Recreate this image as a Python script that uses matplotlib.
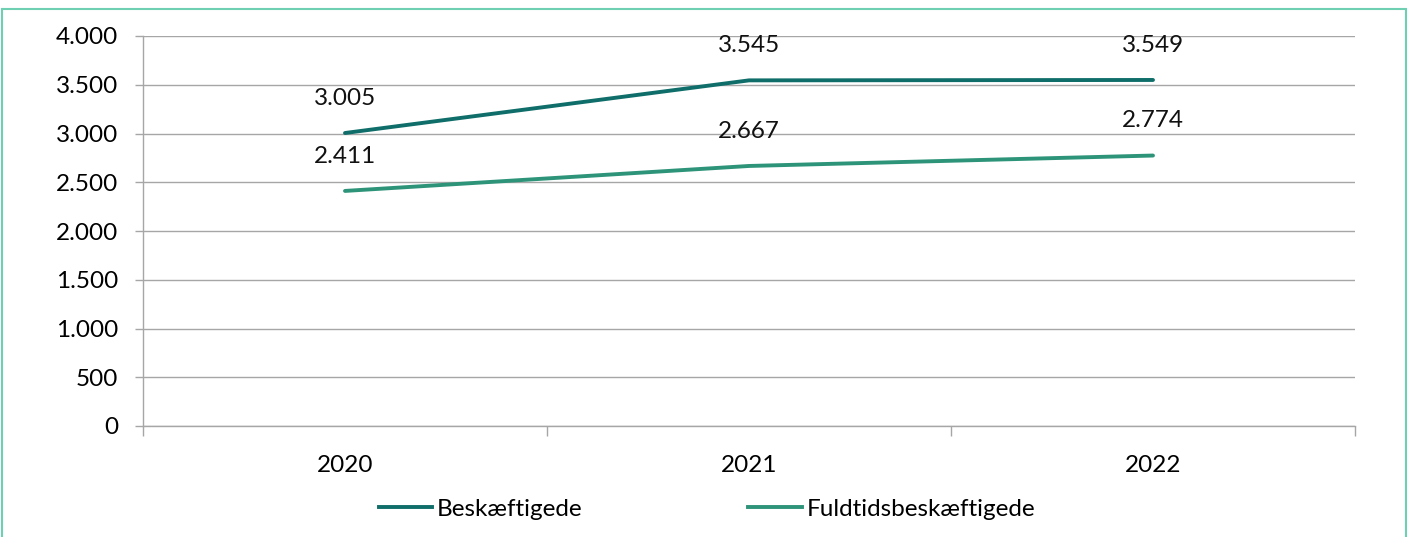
import matplotlib
matplotlib.use("Agg")
import matplotlib.pyplot as plt
from matplotlib.patches import Rectangle
from matplotlib.lines import Line2D

years = ["2020", "2021", "2022"]
beskaeftigede = [3005, 3545, 3549]
fuldtids = [2411, 2667, 2774]
series_names = ["Beskæftigede", "Fuldtidsbeskæftigede"]
yticks = [0, 500, 1000, 1500, 2000, 2500, 3000, 3500, 4000]

plt.rcParams['font.family'] = ['Lato', 'DejaVu Sans']

W, H = 1409, 537
fig = plt.figure(figsize=(W/100, H/100), dpi=100)
ax = fig.add_axes([143/W, 1-426/H, (1355-143)/W, (426-36)/H])

c1 = '#0f6e69'
c2 = '#2e9479'
fs = 17.5
x = list(range(len(years)))
ax.plot(x, beskaeftigede, color=c1, lw=2.8, solid_capstyle='round', label=series_names[0], zorder=3)
ax.plot(x, fuldtids, color=c2, lw=2.8, solid_capstyle='round', label=series_names[1], zorder=3)

def fmt(v):
    return f"{v:,}".replace(",", ".")

for xs, vals in [(x, beskaeftigede), (x, fuldtids)]:
    for xi, v in zip(xs, vals):
        ax.annotate(fmt(v), (xi, v), xytext=(0, 25), textcoords='offset points',
                    ha='center', va='center', fontsize=fs, color='#111111')

ax.set_xlim(-0.5, 2.5)
ax.set_ylim(0, 4000)
ax.set_yticks(yticks)
ax.set_yticklabels([fmt(v) for v in yticks], fontsize=fs)
ax.set_xticks(x)
ax.set_xticklabels(years, fontsize=fs)
ax.set_xticks([-0.5, 0.5, 1.5, 2.5], minor=True)
ax.tick_params(axis='x', which='major', length=0, pad=21)
ax.tick_params(axis='x', which='minor', length=7, color='#a6a6a6', width=1)
ax.tick_params(axis='y', length=6, color='#a6a6a6', width=1, pad=12)
ax.grid(axis='y', color='#a6a6a6', lw=1)
ax.set_axisbelow(True)
for s in ['top', 'right']:
    ax.spines[s].set_visible(False)
for s in ['left', 'bottom']:
    ax.spines[s].set_color('#a6a6a6')
    ax.spines[s].set_linewidth(1)

handles = [Line2D([0], [0], color=c1, lw=2.8), Line2D([0], [0], color=c2, lw=2.8)]
fig.legend(handles, series_names, loc='center', bbox_to_anchor=(707/W, 1-509/H),
           ncol=2, frameon=False, fontsize=fs, handlelength=2.2, handletextpad=0.2,
           columnspacing=6.8)

fig.patches.append(Rectangle((2/W, -0.1), (1406-2)/W, 1.1-9/H, transform=fig.transFigure,
                             fill=False, edgecolor='#6fcfb2', lw=1.5))

fig.savefig("out.png", dpi=100)
